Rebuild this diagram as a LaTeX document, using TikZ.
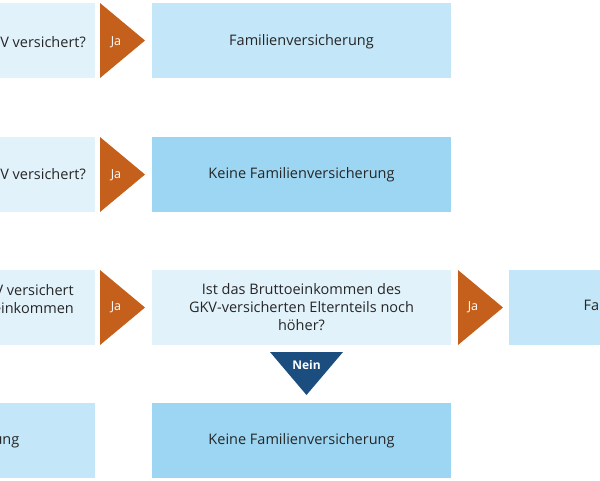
\documentclass[tikz,border=0pt]{standalone}
\usepackage{fontspec}
\setmainfont{Open Sans}
\definecolor{bxA}{HTML}{E2F2FB}
\definecolor{bxB}{HTML}{C3E6F8}
\definecolor{bxC}{HTML}{9DD6F2}
\definecolor{orA}{HTML}{C4601B}
\definecolor{dbA}{HTML}{1B4E7E}
\begin{document}
\begin{tikzpicture}[x=1pt,y=-1pt,
  box/.style={inner sep=0pt,font=\fontsize{14.5}{18}\selectfont,text=black!85},
  tri/.style={fill=orA},
  lab/.style={text=white,font=\fontsize{12.5}{14}\selectfont}]
\useasboundingbox (0,0) rectangle (600,480);
\clip (0,0) rectangle (600,480);
% row 1
\fill[bxA] (-50,3) rectangle (95,78);
\node[box,anchor=east] (t1) at (86,42) {V versichert?};
\fill[tri] (100,3) -- (100,78) -- (145,40.5) -- cycle;
\node[lab] (j1) at (116,42) {Ja};
\fill[bxB] (152,3) rectangle (451,78);
\node[box] (f1) at (301.5,42) {Familienversicherung};
% row 2
\fill[bxA] (-50,137) rectangle (95,212);
\node[box,anchor=east] (t2) at (86,174) {V versichert?};
\fill[tri] (100,137) -- (100,212) -- (145,174.5) -- cycle;
\node[lab] (j2) at (116,175) {Ja};
\fill[bxC] (152,137) rectangle (451,212);
\node[box] (f2) at (301.5,175) {Keine Familienversicherung};
% row 3
\fill[bxA] (-50,270) rectangle (95,345);
\node[box,anchor=east,align=right] (t3) at (74,299) {V versichert\\ einkommen};
\fill[tri] (100,270) -- (100,345) -- (145,307.5) -- cycle;
\node[lab] (j3) at (116,307) {Ja};
\fill[bxA] (152,270) rectangle (451,345);
\node[box,align=center] (q) at (301.5,307) {Ist das Bruttoeinkommen des\\GKV-versicherten Elternteils noch\\höher?};
\fill[tri] (458,270) -- (458,345) -- (503,307.5) -- cycle;
\node[lab] (j4) at (473,307) {Ja};
\fill[bxB] (509,270) rectangle (650,345);
\node[box] (f3) at (656,307) {Familienversicherung};
% down arrow
\fill[dbA] (270,352) -- (343,352) -- (306.5,395) -- cycle;
\node[lab,font=\bfseries\fontsize{12}{13}\selectfont] (n) at (306.5,365) {Nein};
% row 4
\fill[bxB] (-50,403) rectangle (95,478);
\node[box] (t4) at (-53,441) {Familienversicherung};
\fill[bxC] (152,403) rectangle (451,478);
\node[box] (f4) at (301.5,441) {Keine Familienversicherung};
\end{tikzpicture}
\end{document}
